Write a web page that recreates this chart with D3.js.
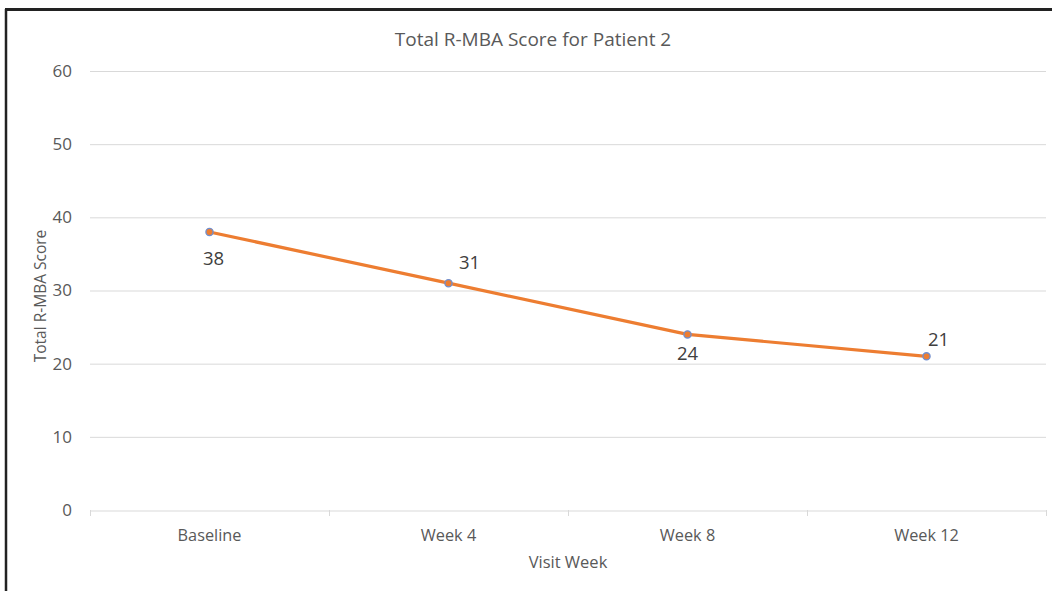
<!DOCTYPE html>
<html><head><meta charset="utf-8">
<script src="https://cdn.jsdelivr.net/npm/d3@7"></script>
<style>body{margin:0;background:#fff;} text{font-family:"Open Sans",sans-serif;}</style>
</head><body>
<svg id="c" width="1052" height="591"></svg>
<script>
const categories = ["Baseline","Week 4","Week 8","Week 12"];
const scores = [38,31,24,21];
const yTicks = [0,10,20,30,40,50,60];

const svg = d3.select("#c");
const W=1052,H=591;
svg.append("rect").attr("width",W).attr("height",H).attr("fill","#fff");
// frame
svg.append("line").attr("x1",5).attr("x2",W).attr("y1",9.5).attr("y2",9.5).attr("stroke","#222").attr("stroke-width",3);
svg.append("line").attr("x1",6).attr("x2",6).attr("y1",9).attr("y2",H).attr("stroke","#222").attr("stroke-width",2.5);

const m={l:90,r:1046,t:71,b:510};
const x=d3.scaleBand().domain(categories).range([m.l,m.r]);
const y=d3.scaleLinear().domain([0,60]).range([m.b,m.t]);

// gridlines
svg.append("g").selectAll("line").data(yTicks.filter(d=>d>0)).join("line")
  .attr("x1",m.l).attr("x2",m.r).attr("y1",d=>y(d)+0.5).attr("y2",d=>y(d)+0.5)
  .attr("stroke","#d9d9d9").attr("stroke-width",1);

// y axis labels
const ya=svg.append("g").attr("transform",`translate(${m.l},0)`)
  .call(d3.axisLeft(y).tickValues(yTicks).tickSize(0).tickPadding(18));
ya.select(".domain").remove();
ya.selectAll("text").attr("font-family","Open Sans").attr("font-size",17).attr("fill","#595959");

// x axis
const xa=svg.append("g").attr("transform",`translate(0,${m.b+0.5})`)
  .call(d3.axisBottom(x).tickSize(0).tickPadding(19));
xa.select(".domain").attr("stroke","#d9d9d9");
xa.selectAll("text").attr("font-family","Open Sans").attr("font-size",16.3).attr("fill","#595959");
const bounds=categories.map(c=>x(c)).concat([m.r]);
svg.append("g").selectAll("line").data(bounds).join("line")
  .attr("x1",d=>d+0.5).attr("x2",d=>d+0.5).attr("y1",m.b).attr("y2",m.b+6)
  .attr("stroke","#d9d9d9");

// line
const cx=c=>x(c)+x.bandwidth()/2;
const line=d3.line().x((d,i)=>cx(categories[i])).y(d=>y(d));
svg.append("path").datum(scores).attr("d",line).attr("fill","none")
  .attr("stroke","#ED7D31").attr("stroke-width",3.2).attr("stroke-linejoin","round");
svg.append("g").selectAll("circle").data(scores).join("circle")
  .attr("cx",(d,i)=>cx(categories[i])).attr("cy",d=>y(d)).attr("r",3.6)
  .attr("fill","#ED7D31").attr("stroke","#6F8FD0").attr("stroke-width",1.3);

// data labels (relative label offsets from each point, as placed in the original)
const labelOffsets=[[4,33],[21,-14],[0,26],[12,-10]];
svg.append("g").selectAll("text").data(scores).join("text")
  .attr("x",(d,i)=>cx(categories[i])+labelOffsets[i][0])
  .attr("y",(d,i)=>y(d)+labelOffsets[i][1])
  .attr("text-anchor","middle").attr("font-size",18.5).attr("fill","#404040")
  .text(d=>d);

// title
svg.append("text").attr("x",533).attr("y",46).attr("text-anchor","middle")
  .attr("font-size",19).attr("fill","#595959").text("Total R-MBA Score for Patient 2");
// axis titles
svg.append("text").attr("x",568).attr("y",568).attr("text-anchor","middle")
  .attr("font-size",16.5).attr("fill","#595959").text("Visit Week");
svg.append("text").attr("transform","translate(46,296) rotate(-90)").attr("text-anchor","middle")
  .attr("font-size",15.5).attr("fill","#595959").text("Total R-MBA Score");
</script>
</body></html>
